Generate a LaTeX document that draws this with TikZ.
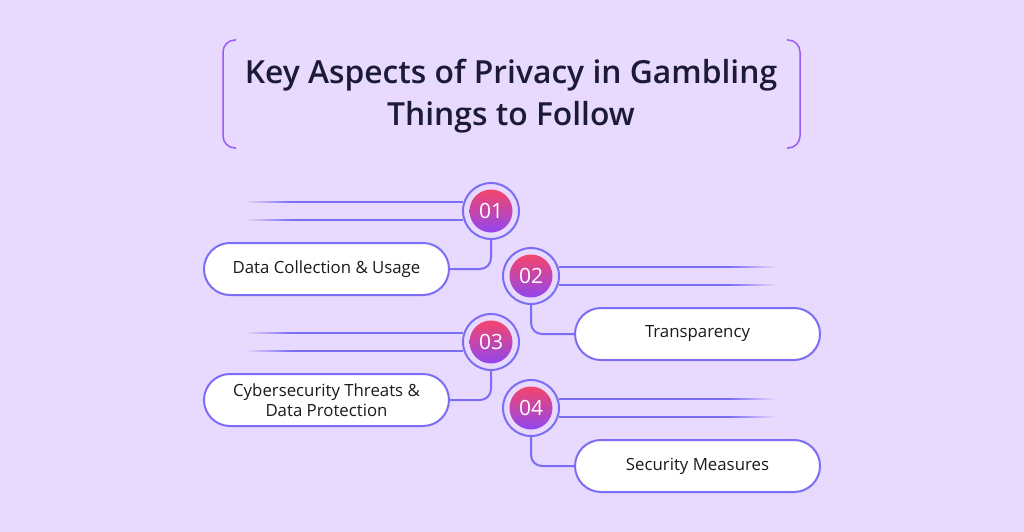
\documentclass[tikz,border=0pt]{standalone}
\usepackage{fontspec}
\setmainfont{Open Sans}
\newfontfamily\semifont{Open Sans Semibold}
\usetikzlibrary{calc}
\definecolor{bg}{HTML}{E8D9FE}
\definecolor{ring}{HTML}{7B6EF5}
\definecolor{gtop}{HTML}{F5456A}
\definecolor{gbot}{HTML}{9146F0}
\definecolor{titlec}{HTML}{1C1B36}
\definecolor{txt}{HTML}{1A1A1A}
\definecolor{frame}{HTML}{9A5BF7}
\tikzset{
  x=1pt, y=1pt,
  link/.style={draw=ring, line width=2pt},
  ringnode/.style={circle, draw=ring, line width=2pt, fill=bg, minimum size=56pt, inner sep=0pt},
  numnode/.style={circle, minimum size=43pt, inner sep=0pt, top color=gtop, bottom color=gbot, text=white, font=\fontsize{21}{20}\selectfont},
  itembox/.style={draw=ring, line width=2pt, fill=white, rounded corners=26pt, minimum width=245pt, minimum height=52pt, text=txt, align=center, font=\fontsize{16.8}{20.5}\selectfont},
  titletext/.style={text=titlec, font=\semifont\fontsize{31.8}{42}\selectfont, align=center}
}
\begin{document}
\begin{tikzpicture}
\fill[bg] (0,0) rectangle (1024,-532);
\useasboundingbox (0,0) rectangle (1024,-532);
% title frame
\draw[frame, line width=1.5pt, rounded corners=12pt] (236,-40) -- (223,-40) -- (223,-148) -- (236,-148);
\draw[frame, line width=1.5pt, rounded corners=12pt] (787,-40) -- (800,-40) -- (800,-148) -- (787,-148);
\node[titletext] (title) at (511,-96) {Key Aspects of Privacy in Gambling\\Things to Follow};

% items
\node[itembox] (b1) at (326.5,-269) {Data Collection \& Usage};
\node[itembox] (b2) at (697.5,-334) {Transparency};
\node[itembox] (b3) at (326.5,-400) {Cybersecurity Threats \&\\Data Protection};
\node[itembox] (b4) at (697.5,-466) {Security Measures};

\foreach \i/\x/\y in {1/491/211, 2/531/276, 3/491/342, 4/531/408}{
  \node[ringnode] (r\i) at (\x,-\y) {};
}
% connectors ring -> box
\draw[link, rounded corners=11pt] (r1.south) |- (b1.east);
\draw[link, rounded corners=11pt] (r2.south) |- (b2.west);
\draw[link, rounded corners=11pt] (r3.south) |- (b3.east);
\draw[link, rounded corners=11pt] (r4.south) |- (b4.west);

% horizontal lines left (01, 03)
\foreach \i in {1,3}{
  \foreach \a in {162,198}{
    \draw[link] (r\i.\a) -- ($(r\i.\a)+(-170,0)$);
    \foreach \k in {0,...,23}{
      \pgfmathsetmacro{\p}{100-\k*4.2}
      \draw[draw=ring!\p!bg, line width=2pt] ($(r\i.\a)+(-170-\k*2,0)$) -- ++(-2.3,0);
    }
  }
}
% horizontal lines right (02, 04)
\foreach \i in {2,4}{
  \foreach \a in {18,-18}{
    \draw[link] (r\i.\a) -- ($(r\i.\a)+(170,0)$);
    \foreach \k in {0,...,23}{
      \pgfmathsetmacro{\p}{100-\k*4.2}
      \draw[draw=ring!\p!bg, line width=2pt] ($(r\i.\a)+(170+\k*2,0)$) -- ++(2.3,0);
    }
  }
}
\node[numnode] (c1) at (r1) {01};
\node[numnode] (c2) at (r2) {02};
\node[numnode] (c3) at (r3) {03};
\node[numnode] (c4) at (r4) {04};
\end{tikzpicture}
\end{document}
